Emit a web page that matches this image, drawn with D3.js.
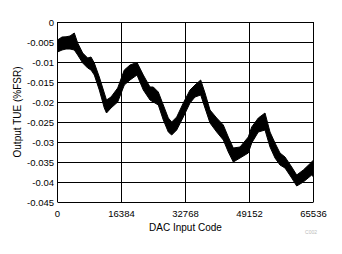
<!DOCTYPE html>
<html>
<head>
<meta charset="utf-8">
<script src="https://cdn.jsdelivr.net/npm/d3@7/dist/d3.min.js"></script>
<style>
  body { margin: 0; background: #fff; }
  text { font-family: "Liberation Sans", Arial, sans-serif; }
</style>
</head>
<body>
<svg id="chart" width="342" height="254"></svg>
<script>
// DAC code vs TUE band (upper / lower edge of the noisy trace)
let codes  = [0, 1152, 2176, 3200, 4300, 5171, 6451, 7731, 8576, 9421, 10701, 11981, 12544, 13696, 15411, 17101,
  18560, 20352, 21965, 23680, 24525, 25805, 27085, 28365, 29235, 30515, 32205, 33920, 35200, 36659, 37760, 39040,
  40755, 42445, 43725, 45005, 46720, 48845, 49715, 51405, 53120, 54400, 55680, 56960, 58240, 59955, 61235, 62925,
  65075, 65536];
let tueMax = [-0.0045, -0.00375, -0.0037, -0.0035, -0.00275, -0.00525, -0.00775, -0.009, -0.00875, -0.01025, -0.01375, -0.01775, -0.0195, -0.01875, -0.0165, -0.012,
  -0.01075, -0.0101, -0.01325, -0.01625, -0.01625, -0.0175, -0.02075, -0.024, -0.025, -0.02375, -0.02025, -0.017, -0.01575, -0.0145, -0.01775, -0.022,
  -0.024, -0.02575, -0.02875, -0.0315, -0.03125, -0.02875, -0.02625, -0.024, -0.02275, -0.0275, -0.03025, -0.03275, -0.03375, -0.03625, -0.03825, -0.037,
  -0.035, -0.0345];
let tueMin = [-0.0075, -0.007, -0.00675, -0.00675, -0.007, -0.00825, -0.01025, -0.0115, -0.012, -0.01325, -0.017, -0.0215, -0.02275, -0.0215, -0.02, -0.01575,
  -0.0145, -0.01325, -0.017, -0.0195, -0.02, -0.02075, -0.0245, -0.0275, -0.02825, -0.027, -0.02375, -0.02025, -0.01875, -0.01825, -0.0215, -0.02525,
  -0.0275, -0.0295, -0.0325, -0.035, -0.034, -0.03275, -0.03025, -0.0275, -0.027, -0.03125, -0.034, -0.03575, -0.0365, -0.039, -0.041, -0.04,
  -0.03825, -0.03875];

let xTicks = [0, 16384, 32768, 49152, 65536];
let yTicks = [0, -0.005, -0.01, -0.015, -0.02, -0.025, -0.03, -0.035, -0.04, -0.045];

let svg = d3.select("#chart");
let plotL = 57.5, plotR = 313.5, plotT = 22, plotB = 202;

let x = d3.scaleLinear().domain([0, 65536]).range([plotL, plotR]);
let y = d3.scaleLinear().domain([0, -0.045]).range([plotT, plotB]);

// grid
svg.append("g")
  .selectAll("line.h")
  .data(yTicks)
  .enter()
  .append("line")
  .attr("x1", plotL).attr("x2", plotR)
  .attr("y1", d => Math.round(y(d)) + 0.5).attr("y2", d => Math.round(y(d)) + 0.5)
  .style("stroke", "#000").style("stroke-width", 1);

svg.append("g")
  .selectAll("line.v")
  .data(xTicks)
  .enter()
  .append("line")
  .attr("x1", d => Math.floor(x(d)) + 0.5).attr("x2", d => Math.floor(x(d)) + 0.5)
  .attr("y1", plotT).attr("y2", plotB)
  .style("stroke", "#000").style("stroke-width", 1);

// data band
let band = codes.map((c, i) => ({code: c, hi: tueMax[i], lo: tueMin[i]}));
let area = d3.area()
  .x(d => x(d.code))
  .y0(d => y(d.lo))
  .y1(d => y(d.hi));

svg.append("path")
  .datum(band)
  .attr("d", area)
  .style("fill", "#000")
  .style("stroke", "#000")
  .style("stroke-width", 1);

// tick labels
svg.append("g")
  .selectAll("text")
  .data(yTicks)
  .enter()
  .append("text")
  .attr("x", 54)
  .attr("y", d => y(d) + 3.5)
  .attr("text-anchor", "end")
  .style("font-size", "9.5px")
  .text(d => d === 0 ? "0" : String(+d.toFixed(3)));

svg.append("g")
  .selectAll("text")
  .data(xTicks)
  .enter()
  .append("text")
  .attr("x", d => x(d))
  .attr("y", 217)
  .attr("text-anchor", "middle")
  .style("font-size", "9.5px")
  .text(d => d);

// axis titles
svg.append("text")
  .attr("x", (plotL + plotR) / 2)
  .attr("y", 231)
  .attr("text-anchor", "middle")
  .style("font-size", "10px")
  .text("DAC Input Code");

svg.append("text")
  .attr("transform", "translate(21," + ((plotT + plotB) / 2) + ") rotate(-90)")
  .attr("text-anchor", "middle")
  .style("font-size", "10px")
  .text("Output TUE (%FSR)");

svg.append("text")
  .attr("x", 317)
  .attr("y", 234)
  .attr("text-anchor", "end")
  .style("font-size", "5px")
  .style("fill", "#bbb")
  .text("C002");
</script>
</body>
</html>
